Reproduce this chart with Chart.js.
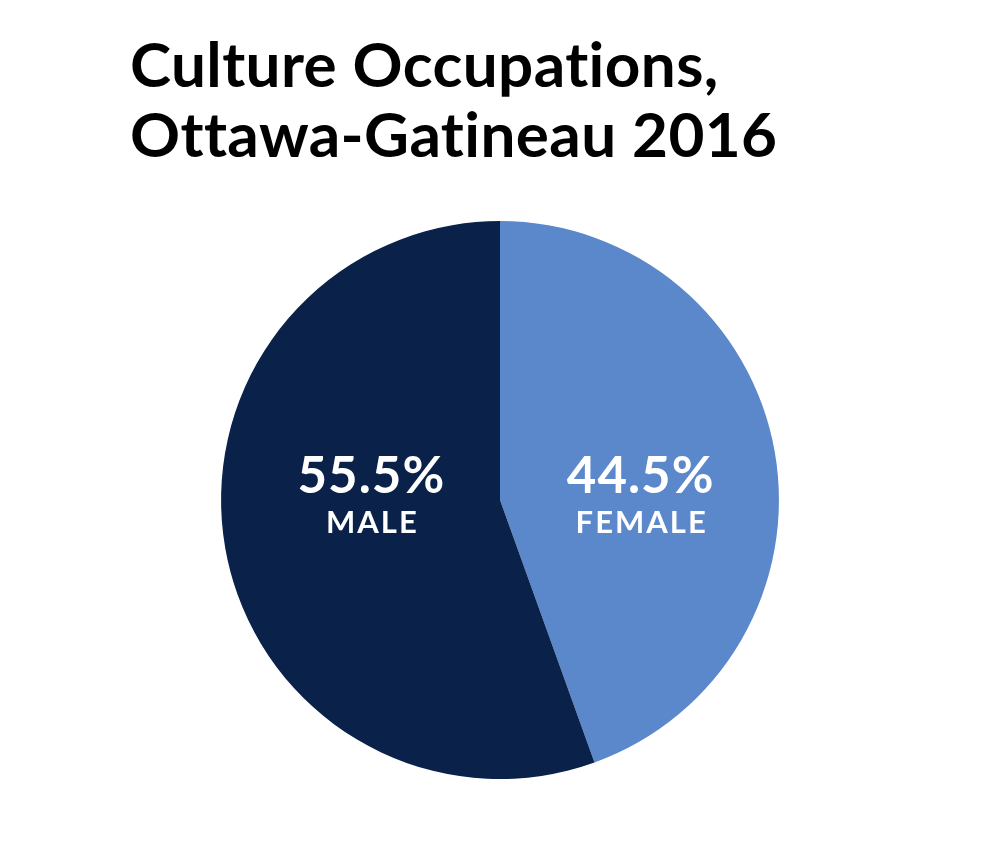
<!DOCTYPE html>
<html>
<head>
<meta charset="utf-8">
<script src="https://cdn.jsdelivr.net/npm/chart.js@4/dist/chart.umd.min.js"></script>
<style>
  html, body { margin: 0; padding: 0; background: #fff; }
  #wrap { width: 1000px; height: 864px; }
</style>
</head>
<body>
<div id="wrap"><canvas id="pie"></canvas></div>
<script>
const labels = ['FEMALE', 'MALE'];
const shares = [44.5, 55.5];
const colors = ['#5b87cb', '#0a2149'];

// a bit of tracking, also keeps Lato from merging "ti" into a ligature
const tracking = {
  id: 'tracking',
  beforeDraw(chart) {
    chart.ctx.letterSpacing = '0.4px';
  }
};

// white % + label text inside each slice
const sliceLabels = {
  id: 'sliceLabels',
  afterDatasetsDraw(chart) {
    const ctx = chart.ctx;
    const meta = chart.getDatasetMeta(0);
    ctx.save();
    ctx.fillStyle = '#fff';
    ctx.textAlign = 'center';
    ctx.textBaseline = 'alphabetic';
    meta.data.forEach((arc, i) => {
      const mid = (arc.startAngle + arc.endAngle) / 2;
      const x = arc.x + Math.cos(mid) * arc.outerRadius * 0.49 + 6;
      const y = arc.y;
      ctx.letterSpacing = '1px';
      ctx.font = 'bold 51px Lato';
      ctx.fillText(shares[i].toFixed(1) + '%', x, y - 7);
      ctx.letterSpacing = '2px';
      ctx.font = 'bold 31px Lato';
      ctx.fillText(labels[i], x + 1, y + 33);
    });
    ctx.restore();
  }
};

new Chart(document.getElementById('pie'), {
  type: 'pie',
  data: {
    labels: labels,
    datasets: [{
      data: shares,
      backgroundColor: colors,
      borderWidth: 0
    }]
  },
  options: {
    responsive: true,
    maintainAspectRatio: false,
    animation: false,
    layout: { padding: { left: 130, right: 130, bottom: 85 } },
    plugins: {
      legend: { display: false },
      tooltip: { enabled: false },
      title: {
        display: true,
        text: ['Culture Occupations,', 'Ottawa-Gatineau 2016'],
        align: 'start',
        color: '#000',
        font: { family: 'Lato', weight: 'bold', size: 62, lineHeight: 1.13 },
        padding: { top: 32, bottom: 49 }
      }
    }
  },
  plugins: [tracking, sliceLabels]
});
</script>
</body>
</html>
